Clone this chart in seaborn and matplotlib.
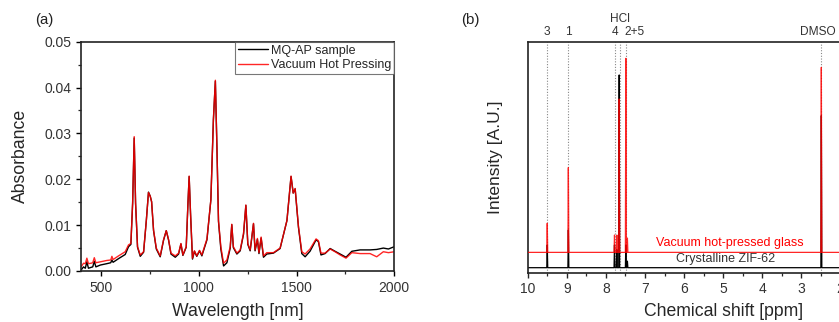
import numpy as np
import pandas as pd
import matplotlib
matplotlib.use("Agg")
import matplotlib.pyplot as plt
import matplotlib.transforms as mtransforms
from matplotlib.ticker import MultipleLocator
import seaborn as sns

# ---------------- data: panel (a) ----------------
wavelength = [400, 411, 420, 428, 436, 450, 458, 466, 474, 497, 530, 550, 556, 562, 590,
              624, 641, 653, 662, 670, 677, 687, 701, 718, 732, 743, 752, 759, 769, 783,
              803, 820, 834, 846, 858, 880, 897, 909, 919, 936, 945, 951, 958, 968, 978,
              990, 1004, 1016, 1042, 1062, 1075, 1085, 1093, 1101, 1113, 1127, 1144, 1161,
              1169, 1177, 1195, 1212, 1229, 1241, 1251, 1263, 1280, 1288, 1300, 1308, 1319,
              1331, 1348, 1382, 1416, 1451, 1472, 1483, 1493, 1510, 1527, 1544, 1569, 1600,
              1612, 1625, 1646, 1672, 1697, 1723, 1753, 1783, 1825, 1876, 1910, 1944, 1970,
              2000]
vacuum_hot_pressing = [0.0010, 0.0017, 0.0016, 0.0028, 0.0016, 0.0017, 0.0018, 0.0029, 0.0018,
                       0.0020, 0.0023, 0.0024, 0.0032, 0.0025, 0.0033, 0.0042, 0.0057, 0.0060,
                       0.0148, 0.0293, 0.0148, 0.0053, 0.0035, 0.0042, 0.0110, 0.0171, 0.0163,
                       0.0151, 0.0089, 0.0050, 0.0033, 0.0068, 0.0088, 0.0068, 0.0039, 0.0033,
                       0.0039, 0.0060, 0.0035, 0.0053, 0.0149, 0.0207, 0.0126, 0.0028, 0.0044,
                       0.0033, 0.0045, 0.0035, 0.0070, 0.0155, 0.0330, 0.0416, 0.0270, 0.0110,
                       0.0053, 0.0017, 0.0024, 0.0053, 0.0102, 0.0053, 0.0039, 0.0046, 0.0082,
                       0.0144, 0.0060, 0.0046, 0.0104, 0.0046, 0.0071, 0.0040, 0.0074, 0.0033,
                       0.0040, 0.0040, 0.0050, 0.0110, 0.0207, 0.0170, 0.0180, 0.0097, 0.0042,
                       0.0037, 0.0048, 0.0070, 0.0066, 0.0039, 0.0039, 0.0048, 0.0042, 0.0035,
                       0.0028, 0.0040, 0.0038, 0.0038, 0.0031, 0.0042, 0.0040, 0.0042]
mq_ap_sample = [0.0003, 0.0009, 0.0006, 0.0020, 0.0006, 0.0008, 0.0009, 0.0021, 0.0009,
                0.0013, 0.0016, 0.0018, 0.0024, 0.0019, 0.0027, 0.0036, 0.0053, 0.0058,
                0.0148, 0.0290, 0.0148, 0.0052, 0.0032, 0.0041, 0.0110, 0.0172, 0.0163,
                0.0151, 0.0088, 0.0048, 0.0031, 0.0067, 0.0088, 0.0067, 0.0037, 0.0030,
                0.0037, 0.0059, 0.0034, 0.0052, 0.0149, 0.0206, 0.0126, 0.0026, 0.0043,
                0.0032, 0.0044, 0.0033, 0.0068, 0.0155, 0.0330, 0.0414, 0.0270, 0.0108,
                0.0048, 0.0011, 0.0018, 0.0050, 0.0101, 0.0051, 0.0037, 0.0044, 0.0080,
                0.0143, 0.0058, 0.0044, 0.0103, 0.0044, 0.0069, 0.0038, 0.0072, 0.0030,
                0.0037, 0.0039, 0.0049, 0.0110, 0.0206, 0.0170, 0.0179, 0.0095, 0.0038,
                0.0031, 0.0043, 0.0068, 0.0064, 0.0035, 0.0038, 0.0049, 0.0043, 0.0037,
                0.0030, 0.0043, 0.0046, 0.0046, 0.0047, 0.0050, 0.0048, 0.0053]

# ---------------- data: panel (b) ----------------
peak_ppm = [9.50, 8.96, 7.78, 7.72, 7.66, 7.49, 7.45, 2.49]
glass_top = [0.214, 0.455, 0.163, 0.163, 0.752, 0.928, 0.150, 0.889]
crystal_top = [0.120, 0.185, 0.120, 0.100, 0.856, 0.120, 0.050, 0.680]
glass_base = 0.088
crystal_base = 0.0217
assign_ppm = [9.50, 8.96, 7.77, 7.64, 7.49, 2.49]
assign_text = ["3", "1", "4", "HCl", "2+5", "DMSO"]


def stick_line(peaks, tops, base, half=0.012, start=10.5, end=-0.5):
    xs, ys = [start], [base]
    for p, t in sorted(zip(peaks, tops), reverse=True):
        xs += [p + half, p, p - half]
        ys += [base, t, base]
    xs.append(end)
    ys.append(base)
    return pd.DataFrame({"ppm": xs, "I": ys})


sns.set_style("ticks")
plt.rcParams["font.family"] = ["Liberation Sans", "DejaVu Sans"]
plt.rcParams["axes.linewidth"] = 1.2

fig = plt.figure(figsize=(8.39, 3.22), dpi=100)
W, H = 839, 322
axA = fig.add_axes([81.4 / W, (H - 271) / H, (394.3 - 81.4) / W, (271 - 41.7) / H])
axB = fig.add_axes([527.7 / W, (H - 272.7) / H, 391 / W, 231 / H])

# ---- panel (a)
dfA = pd.DataFrame({"wl": wavelength, "mq": mq_ap_sample, "vhp": vacuum_hot_pressing})
sns.lineplot(data=dfA, x="wl", y="mq", ax=axA, color="black", lw=1.0,
             label="MQ-AP sample", sort=False, estimator=None)
sns.lineplot(data=dfA, x="wl", y="vhp", ax=axA, color="#ff0000", lw=1.0, alpha=0.85,
             label="Vacuum Hot Pressing", sort=False, estimator=None)
axA.set_xlim(400, 2000)
axA.set_ylim(0, 0.05)
axA.xaxis.set_major_locator(MultipleLocator(500))
axA.xaxis.set_minor_locator(MultipleLocator(250))
axA.yaxis.set_major_locator(MultipleLocator(0.01))
axA.yaxis.set_minor_locator(MultipleLocator(0.005))
axA.yaxis.set_major_formatter(matplotlib.ticker.FormatStrFormatter("%.2f"))
axA.set_xlabel("Wavelength [nm]", fontsize=12.7, labelpad=6)
axA.set_ylabel("Absorbance", fontsize=12.7, labelpad=11)
axA.tick_params(which="major", direction="out", length=3.5, width=1.0, labelsize=10,
                colors="black", labelcolor="#333333")
axA.tick_params(which="minor", direction="out", length=2, width=0.9)
for s in axA.spines.values():
    s.set_visible(True)
    s.set_color("#222222")
leg = axA.legend(loc="upper right", fontsize=9, frameon=True, fancybox=False,
                 borderaxespad=0, handlelength=2.4, handletextpad=0.2,
                 borderpad=0.25, labelspacing=0.2, edgecolor="#555555")
leg.get_frame().set_linewidth(0.8)
fig.text(44 / W, 1 - 20 / H, "(a)", fontsize=10.8, ha="center", va="center", color="#222222")

# ---- panel (b)
dfC = stick_line(peak_ppm, crystal_top, crystal_base)
dfG = stick_line(peak_ppm, glass_top, glass_base)
trans = mtransforms.blended_transform_factory(axB.transData, axB.transAxes)
for p in assign_ppm:
    axB.plot([p, p], [0, 1], transform=trans, color="#888888", lw=0.8, ls=(0, (1, 1.5)),
             zorder=1)
sns.lineplot(data=dfC, x="ppm", y="I", ax=axB, color="black", lw=0.9, sort=False,
             estimator=None, zorder=2)
sns.lineplot(data=dfG, x="ppm", y="I", ax=axB, color="#ff0000", lw=0.9, alpha=0.85,
             sort=False, estimator=None, zorder=3)
axB.set_xlim(10, 0)
axB.set_ylim(0, 1)
axB.set_yticks([])
axB.xaxis.set_major_locator(MultipleLocator(1))
axB.xaxis.set_minor_locator(MultipleLocator(0.5))
axB.tick_params(which="major", direction="out", length=3.5, width=1.0, labelsize=10,
                labelcolor="#333333")
axB.tick_params(which="minor", direction="out", length=2, width=0.9)
axB.set_xlabel("Chemical shift [ppm]", fontsize=12.7, labelpad=4.5)
axB.set_ylabel("Intensity [A.U.]", fontsize=12.5, labelpad=18)
for s in axB.spines.values():
    s.set_visible(True)
    s.set_color("#222222")

label_y = {"HCl": 1.098}
label_dx = {"2+5": -0.21, "DMSO": 0.09}
for p, t in zip(assign_ppm, assign_text):
    axB.text(p + label_dx.get(t, 0), label_y.get(t, 1.042), t, transform=trans,
             ha="center", va="center", fontsize=8.6, color="#333333")
axB.text(4.82, 0.13, "Vacuum hot-pressed glass", color="#ff0000", fontsize=9,
         ha="center", va="center")
axB.text(4.93, 0.058, "Crystalline ZIF-62", color="#333333", fontsize=9,
         ha="center", va="center")
fig.text(470 / W, 1 - 20 / H, "(b)", fontsize=10.8, ha="center", va="center", color="#222222")

fig.savefig("out.png", dpi=100)
